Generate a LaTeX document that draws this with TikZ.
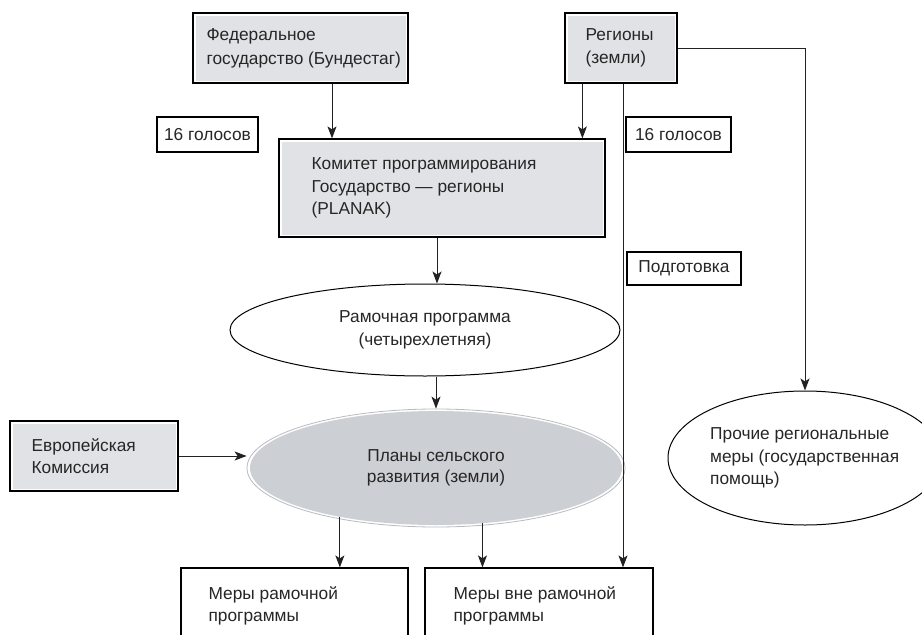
\documentclass[tikz,border=0pt]{standalone}
\usepackage{fontspec}
\setmainfont{Liberation Sans}
\usetikzlibrary{arrows.meta,shapes.geometric}
\definecolor{boxgray}{HTML}{E1E2E5}
\definecolor{plangray}{HTML}{CCCFD3}
\definecolor{ringgray}{HTML}{B8BABD}
\definecolor{linecol}{HTML}{222222}
\begin{document}
\begin{tikzpicture}[x=1pt,y=-1pt,
  font=\fontsize{17.3}{22.5}\selectfont,
  gbox/.style={draw=black, line width=1.2pt, fill=boxgray, rectangle, inner sep=0pt,
    path picture={\draw[white, line width=5pt] (path picture bounding box.south west) rectangle (path picture bounding box.north east);}},
  wbox/.style={draw=black, line width=1.2pt, fill=white, rectangle, inner sep=0pt},
  txt/.style={align=left, inner sep=0pt, anchor=west, text=black!85},
  ell/.style={ellipse, draw=black, line width=1pt, inner sep=0pt, align=center, text=black!85},
  arr/.style={draw=linecol, line width=1pt, -{Stealth[length=12pt,width=9pt,inset=3pt]}},
  ln/.style={draw=linecol, line width=1pt}
]
\useasboundingbox (0,0) rectangle (922,635);
\clip (0,0) rectangle (922,635);

% boxes
\node[gbox, minimum width=215, minimum height=70] (fed) at (300.5,48) {};
\node[txt, font=\fontsize{17.3}{24}\selectfont] (fedt) at ([xshift=14pt]fed.west) {Федеральное\\государство (Бундестаг)};

\node[gbox, minimum width=112, minimum height=70] (reg) at (621,48) {};
\node[txt, font=\fontsize{17.3}{23.5}\selectfont] (regt) at ([xshift=21pt]reg.west) {Регионы\\(земли)};

\node[wbox, minimum width=101, minimum height=35, text=black!85] (vl) at (207.5,134.5) {16 голосов};
\node[wbox, minimum width=105, minimum height=35, text=black!85] (vr) at (678.5,134.5) {16 голосов};

\node[gbox, minimum width=326, minimum height=98] (plk) at (442,188) {};
\node[txt] (plkt) at ([xshift=33pt]plk.west) {Комитет программирования\\Государство — регионы\\(PLANAK)};

\node[wbox, minimum width=114, minimum height=33, text=black!85] (podg) at (684,268.5) {Подготовка};

\node[ell, minimum width=390, minimum height=92] (ram) at (425,330) {Рамочная программа\\(четырехлетняя)};

\node[gbox, minimum width=168, minimum height=70] (eu) at (94,456) {};
\node[txt] (eut) at ([xshift=22pt]eu.west) {Европейская\\Комиссия};

\node[ellipse, minimum width=378, minimum height=118, inner sep=0pt, draw=ringgray, line width=0.8pt] (plring) at (436,468) {};
\node[ellipse, minimum width=372, minimum height=114, inner sep=0pt, fill=plangray, align=center, text=black!85, font=\fontsize{17.3}{21}\selectfont] (plans) at (436,468) {Планы сельского\\развития (земли)};

\node[ell, minimum width=274, minimum height=134] (proch) at (805,458) {};
\node[txt] (procht) at ([xshift=-95pt]proch.center) {Прочие региональные\\меры (государственная\\помощь)};

\node[wbox, minimum width=227, minimum height=80] (mram) at (294.5,608) {};
\node[txt] (mramt) at ([xshift=28pt,yshift=2pt]mram.west) {Меры рамочной\\программы};
\node[wbox, minimum width=228, minimum height=80] (mvne) at (539,608) {};
\node[txt] (mvnet) at ([xshift=29pt,yshift=2pt]mvne.west) {Меры вне рамочной\\программы};

% connectors
\draw[arr] ([xshift=31.5pt]fed.south) -- ([xshift=31.5pt]fed.south |- plk.north);
\draw[arr] ([xshift=18pt]reg.south west) -- ([xshift=18pt]reg.south west |- plk.north);
\draw[arr] ([xshift=2pt]reg.south) -- ([xshift=2pt]reg.south |- mvne.north);
\draw[arr] (reg.east) -| (proch.north);
\draw[arr] ([xshift=-5pt]plk.south) -- ([xshift=-5pt]plk.south |- ram.north);
\draw[arr] (plans.north |- ram.south) -- (plring.north);
\draw[arr] (eu.east) -- (eu.east -| plring.west);
\draw[arr] (plans.207) -- (plans.207 |- mram.north);
\draw[arr] (plans.310) -- (plans.310 |- mvne.north);
\end{tikzpicture}
\end{document}
